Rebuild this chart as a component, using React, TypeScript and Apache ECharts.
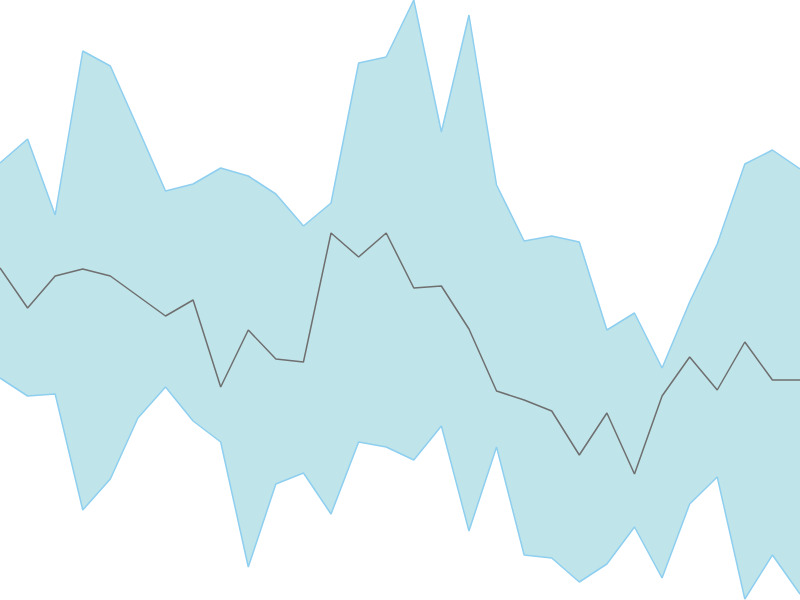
import React, { useEffect, useRef } from "react";
import * as echarts from "echarts";

const categories = Array.from({ length: 30 }, (_, i) => String(i + 1));
const midValues = [332, 292, 324, 331, 324, 304, 284, 300, 213, 270, 241, 238, 367, 343, 367, 312, 314, 271, 209, 200, 189, 145, 187, 126, 204, 243, 210, 258, 220, 220];
const upperValues = [437, 461, 385, 549, 534, 472, 409, 416, 432, 424, 406, 374, 397, 537, 543, 600, 468, 585, 415, 359, 364, 358, 270, 287, 232, 298, 356, 436, 450, 431];
const lowerValues = [222, 204, 206, 90, 121, 182, 213, 179, 158, 33, 116, 127, 86, 158, 153, 140, 174, 69, 153, 45, 42, 18, 36, 73, 22, 96, 123, 1, 45, 6];

export default function App() {
  const ref = useRef<HTMLDivElement>(null);
  useEffect(() => {
    document.body.style.margin = "0";
    const chart = echarts.init(ref.current!, null, { renderer: "svg" });
    const diff = upperValues.map((u, i) => u - lowerValues[i]);
    chart.setOption({
      animation: false,
      grid: { left: 0, right: 0, top: 0, bottom: 0 },
      xAxis: { type: "category", data: categories, boundaryGap: false, show: false },
      yAxis: { type: "value", min: 0, max: 600, show: false },
      series: [
        {
          type: "line",
          data: lowerValues,
          stack: "band",
          symbol: "none",
          lineStyle: { color: "#8ecff0", width: 1.5 },
        },
        {
          type: "line",
          data: diff,
          stack: "band",
          symbol: "none",
          lineStyle: { color: "#8ecff0", width: 1.5 },
          areaStyle: { color: "#bfe4ea", opacity: 1 },
        },
        {
          type: "line",
          data: midValues,
          symbol: "none",
          lineStyle: { color: "#6f6f6f", width: 1.5 },
          z: 5,
        },
      ],
    });
    return () => chart.dispose();
  }, []);
  return <div ref={ref} style={{ position: "absolute", left: 0, top: 0, width: 800, height: 600 }} />;
}
